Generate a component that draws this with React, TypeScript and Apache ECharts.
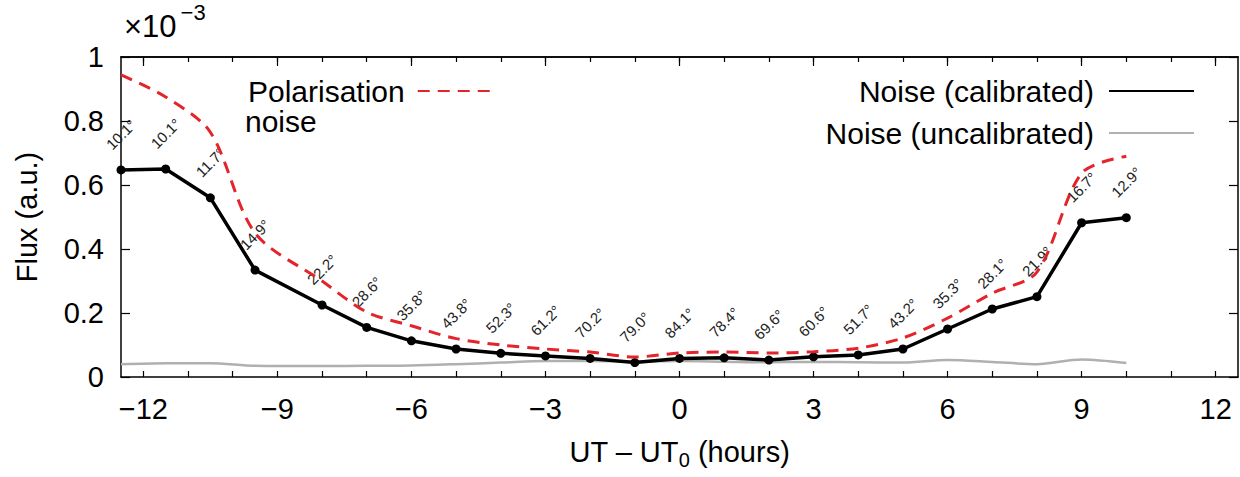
import React, { useEffect, useRef } from 'react';
import * as echarts from 'echarts';

const hours = [-12.5, -11.5, -10.5, -9.5, -8, -7, -6, -5, -4, -3, -2, -1, 0, 1, 2, 3, 4, 5, 6, 7, 8, 9, 10];
const elevation = ['10.1°', '10.1°', '11.7°', '14.9°', '22.2°', '28.6°', '35.8°', '43.8°', '52.3°', '61.2°', '70.2°', '79.0°', '84.1°', '78.4°', '69.6°', '60.6°', '51.7°', '43.2°', '35.3°', '28.1°', '21.9°', '16.7°', '12.9°'];
const calibrated = [0.647, 0.65, 0.56, 0.334, 0.225, 0.155, 0.113, 0.0875, 0.074, 0.066, 0.058, 0.045, 0.058, 0.06, 0.053, 0.063, 0.069, 0.0875, 0.15, 0.2125, 0.251, 0.482, 0.498];
const polarisation = [0.944, 0.875, 0.765, 0.45, 0.3, 0.203, 0.16, 0.12, 0.1, 0.0875, 0.078, 0.0625, 0.075, 0.078, 0.075, 0.079, 0.09, 0.122, 0.184, 0.262, 0.328, 0.637, 0.69];
const uncalibrated = [0.04, 0.043, 0.043, 0.035, 0.034, 0.035, 0.036, 0.04, 0.045, 0.05, 0.05, 0.048, 0.05, 0.048, 0.046, 0.047, 0.046, 0.045, 0.053, 0.047, 0.04, 0.055, 0.044];

const xLabelTicks = [-12, -9, -6, -3, 0, 3, 6, 9, 12];
const xHourTicks = [-12, -11, -10, -9, -8, -7, -6, -5, -4, -3, -2, -1, 0, 1, 2, 3, 4, 5, 6, 7, 8, 9, 10, 11, 12];

const FONT = "'Liberation Sans', Arial, Helvetica, sans-serif";

const pairs = (ys: number[]) => hours.map((h, i) => [h, ys[i]]);
const fmtX = (v: number) => (v < 0 ? '\u2212' + Math.abs(v) : String(v));

export default function App() {
  const ref = useRef<HTMLDivElement>(null);
  useEffect(() => {
    document.body.style.margin = '0';
    const chart = echarts.init(ref.current!, undefined, { renderer: 'svg' });
    const axisLine = { show: true, onZero: false, lineStyle: { color: '#000', width: 1.5 } };
    chart.setOption({
      animation: false,
      textStyle: { fontFamily: FONT },
      grid: { left: 121, top: 57, right: 2, bottom: 100 },
      xAxis: [
        {
          type: 'value', min: -12.5, max: 12.5, position: 'bottom',
          axisLine, splitLine: { show: false },
          axisTick: { show: true, inside: true, length: 6, customValues: xHourTicks, lineStyle: { color: '#000', width: 1.2 } },
          axisLabel: { customValues: xLabelTicks, formatter: fmtX, fontSize: 29, color: '#000', margin: 17, fontFamily: FONT },
          name: 'UT \u2013 UT{sub|0} (hours)', nameLocation: 'middle', nameGap: 56,
          nameTextStyle: { fontSize: 29, color: '#000', fontFamily: FONT, rich: { sub: { fontSize: 20, padding: [17, 0, 0, 0], fontFamily: FONT, color: '#000' } } },
        },
        {
          type: 'value', min: -12.5, max: 12.5, position: 'top',
          axisLine, splitLine: { show: false },
          axisTick: { show: true, inside: true, length: 9, customValues: xLabelTicks, lineStyle: { color: '#000', width: 1.2 } },
          axisLabel: { show: false },
        },
        {
          type: 'value', min: -12.5, max: 12.5, position: 'top',
          axisLine, splitLine: { show: false },
          axisTick: { show: true, inside: true, length: 5, customValues: xHourTicks, lineStyle: { color: '#000', width: 1.2 } },
          axisLabel: { show: false },
        },
      ],
      yAxis: [
        {
          type: 'value', min: 0, max: 1, interval: 0.2, position: 'left',
          axisLine, splitLine: { show: false },
          axisTick: { show: true, inside: true, length: 9, lineStyle: { color: '#000', width: 1.2 } },
          axisLabel: { formatter: (v: number) => String(+v.toFixed(1)), fontSize: 29, color: '#000', margin: 17, fontFamily: FONT },
          name: 'Flux (a.u.)', nameLocation: 'middle', nameGap: 80,
          nameTextStyle: { fontSize: 29, color: '#000', fontFamily: FONT },
        },
        {
          type: 'value', min: 0, max: 1, interval: 0.2, position: 'right',
          axisLine, splitLine: { show: false },
          axisTick: { show: true, inside: true, length: 9, lineStyle: { color: '#000', width: 1.2 } },
          axisLabel: { show: false },
        },
      ],
      legend: [
        {
          data: ['Polarisation noise'], left: 243, top: 71, align: 'right', selectedMode: false,
          itemWidth: 80, itemHeight: 14, formatter: () => 'Polarisation',
          textStyle: { fontSize: 30, color: '#000', fontFamily: FONT, padding: [0, 8, 0, 0] },
          itemStyle: { opacity: 0 },
        },
        {
          data: ['Noise (calibrated)', 'Noise (uncalibrated)'], orient: 'vertical', right: 40, top: 71, align: 'right',
          selectedMode: false, itemWidth: 85, itemHeight: 14, itemGap: 12,
          textStyle: { fontSize: 30, color: '#000', fontFamily: FONT, padding: [0, 10, 0, 0] },
          itemStyle: { opacity: 0 },
        },
      ],
      graphic: [
        { type: 'text', left: 245, top: 106, style: { text: 'noise', fontSize: 30, fill: '#000', fontFamily: FONT } },
        {
          type: 'text', left: 124, top: 1,
          style: {
            text: '{a|\u00d710}{b|\u22123}', fill: '#000',
            rich: {
              a: { fontSize: 31, fontFamily: FONT, fill: '#000', padding: [14, 0, 0, 0] },
              b: { fontSize: 22, fontFamily: FONT, fill: '#000', padding: [0, 0, 15, 4] },
            },
          },
        },
      ],
      series: [
        {
          name: 'Noise (uncalibrated)', type: 'line', data: pairs(uncalibrated), xAxisIndex: 0, yAxisIndex: 0,
          symbol: 'none', smooth: 0.3, lineStyle: { color: '#b0b0b0', width: 2.5 }, itemStyle: { color: '#b0b0b0' }, z: 2,
        },
        {
          name: 'Noise (calibrated)', type: 'line', data: pairs(calibrated), xAxisIndex: 0, yAxisIndex: 0,
          symbol: 'circle', symbolSize: 9, lineStyle: { color: '#000', width: 3.5 }, itemStyle: { color: '#000' }, z: 3,
          label: {
            show: true, position: 'top', distance: 31, rotate: 45, align: 'center', verticalAlign: 'middle',
            formatter: (p: any) => elevation[p.dataIndex], fontSize: 15, color: '#222', fontFamily: FONT,
          },
        },
        {
          name: 'Polarisation noise', type: 'line', data: pairs(polarisation), xAxisIndex: 0, yAxisIndex: 0,
          symbol: 'none', smooth: 0.3, lineStyle: { color: '#e3242b', width: 3, type: [12, 8] }, itemStyle: { color: '#e3242b' }, z: 4,
        },
      ],
    });
    return () => chart.dispose();
  }, []);
  return <div ref={ref} style={{ width: 1240, height: 477 }} />;
}
